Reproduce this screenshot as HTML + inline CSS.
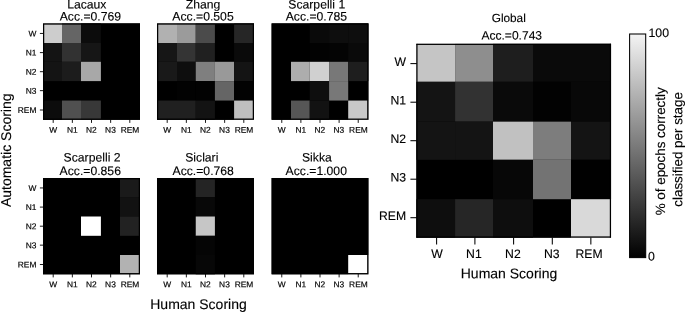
<!DOCTYPE html>
<html lang="en"><head><meta charset="utf-8"><title>Confusion matrices</title>
<style>
html,body{margin:0;padding:0;background:#fff;}
body{width:685px;height:312px;overflow:hidden;}
svg{display:block;will-change:transform;}
svg text{font-family:"Liberation Sans",Arial,Helvetica,sans-serif;fill:#000;text-rendering:geometricPrecision;}
</style></head><body>
<svg width="685" height="312" viewBox="0 0 685 312">
<rect x="0" y="0" width="685" height="312" fill="#fff"/>
<defs><linearGradient id="cb" x1="0" y1="0" x2="0" y2="1"><stop offset="0" stop-color="#f4f4f4"/><stop offset="1" stop-color="#000"/></linearGradient></defs>
<rect x="43.00" y="23.40" width="97.00" height="96.40" fill="#000"/>
<rect x="43.00" y="23.40" width="19.00" height="19.60" fill="#cdcdcd"/>
<rect x="62.00" y="23.40" width="19.00" height="19.60" fill="#656565"/>
<rect x="81.00" y="23.40" width="19.90" height="19.60" fill="#0c0c0c"/>
<rect x="43.00" y="43.00" width="19.00" height="18.80" fill="#141414"/>
<rect x="62.00" y="43.00" width="19.00" height="18.80" fill="#323232"/>
<rect x="81.00" y="43.00" width="19.90" height="18.80" fill="#161616"/>
<rect x="43.00" y="61.80" width="19.00" height="19.30" fill="#141414"/>
<rect x="62.00" y="61.80" width="19.00" height="19.30" fill="#1c1c1c"/>
<rect x="81.00" y="61.80" width="19.90" height="19.30" fill="#a8a8a8"/>
<rect x="43.00" y="100.55" width="19.00" height="19.25" fill="#0c0c0c"/>
<rect x="62.00" y="100.55" width="19.00" height="19.25" fill="#505050"/>
<rect x="81.00" y="100.55" width="19.90" height="19.25" fill="#383838"/>
<rect x="43.62" y="24.02" width="95.75" height="95.15" fill="none" stroke="#000" stroke-width="1.25"/>
<line x1="53.20" y1="119.50" x2="53.20" y2="122.90" stroke="#000" stroke-width="0.9"/>
<line x1="72.35" y1="119.50" x2="72.35" y2="122.90" stroke="#000" stroke-width="0.9"/>
<line x1="91.50" y1="119.50" x2="91.50" y2="122.90" stroke="#000" stroke-width="0.9"/>
<line x1="110.65" y1="119.50" x2="110.65" y2="122.90" stroke="#000" stroke-width="0.9"/>
<line x1="129.80" y1="119.50" x2="129.80" y2="122.90" stroke="#000" stroke-width="0.9"/>
<line x1="39.90" y1="33.45" x2="43.50" y2="33.45" stroke="#000" stroke-width="0.9"/>
<line x1="39.90" y1="52.60" x2="43.50" y2="52.60" stroke="#000" stroke-width="0.9"/>
<line x1="39.90" y1="71.70" x2="43.50" y2="71.70" stroke="#000" stroke-width="0.9"/>
<line x1="39.90" y1="90.65" x2="43.50" y2="90.65" stroke="#000" stroke-width="0.9"/>
<line x1="39.90" y1="110.00" x2="43.50" y2="110.00" stroke="#000" stroke-width="0.9"/>
<text transform="matrix(1,0.0005,0,1,53.10,132.80)" font-size="8.4" text-anchor="middle" stroke="#000" stroke-width="0.18">W</text>
<text transform="matrix(1,0.0005,0,1,72.25,132.80)" font-size="8.4" text-anchor="middle" stroke="#000" stroke-width="0.18">N1</text>
<text transform="matrix(1,0.0005,0,1,91.30,132.80)" font-size="8.4" text-anchor="middle" stroke="#000" stroke-width="0.18">N2</text>
<text transform="matrix(1,0.0005,0,1,110.45,132.80)" font-size="8.4" text-anchor="middle" stroke="#000" stroke-width="0.18">N3</text>
<text transform="matrix(1,0.0005,0,1,130.00,132.80)" font-size="8.4" text-anchor="middle" stroke="#000" stroke-width="0.18">REM</text>
<text transform="matrix(1,0.0005,0,1,36.40,36.45)" font-size="8.4" text-anchor="end" stroke="#000" stroke-width="0.18">W</text>
<text transform="matrix(1,0.0005,0,1,36.40,55.60)" font-size="8.4" text-anchor="end" stroke="#000" stroke-width="0.18">N1</text>
<text transform="matrix(1,0.0005,0,1,36.40,74.70)" font-size="8.4" text-anchor="end" stroke="#000" stroke-width="0.18">N2</text>
<text transform="matrix(1,0.0005,0,1,36.40,93.65)" font-size="8.4" text-anchor="end" stroke="#000" stroke-width="0.18">N3</text>
<text transform="matrix(1,0.0005,0,1,36.40,113.00)" font-size="8.4" text-anchor="end" stroke="#000" stroke-width="0.18">REM</text>
<text transform="matrix(1,0.0005,0,1,86.80,8.45)" font-size="12.2" text-anchor="middle" stroke="#000" stroke-width="0.12">Lacaux</text>
<text transform="matrix(1,0.0005,0,1,90.35,20.45)" font-size="12.2" text-anchor="middle" stroke="#000" stroke-width="0.12">Acc.=0.769</text>
<rect x="157.00" y="23.40" width="97.00" height="96.40" fill="#000"/>
<rect x="157.00" y="23.40" width="20.00" height="19.60" fill="#b1b1b1"/>
<rect x="177.00" y="23.40" width="18.75" height="19.60" fill="#9b9b9b"/>
<rect x="195.75" y="23.40" width="19.15" height="19.60" fill="#4b4b4b"/>
<rect x="234.10" y="23.40" width="19.90" height="19.60" fill="#262626"/>
<rect x="157.00" y="43.00" width="20.00" height="18.80" fill="#161616"/>
<rect x="177.00" y="43.00" width="18.75" height="18.80" fill="#343434"/>
<rect x="195.75" y="43.00" width="19.15" height="18.80" fill="#202020"/>
<rect x="234.10" y="43.00" width="19.90" height="18.80" fill="#0a0a0a"/>
<rect x="157.00" y="61.80" width="20.00" height="19.30" fill="#191919"/>
<rect x="177.00" y="61.80" width="18.75" height="19.30" fill="#0e0e0e"/>
<rect x="195.75" y="61.80" width="19.15" height="19.30" fill="#7f7f7f"/>
<rect x="214.90" y="61.80" width="19.20" height="19.30" fill="#999999"/>
<rect x="234.10" y="61.80" width="19.90" height="19.30" fill="#141414"/>
<rect x="177.00" y="81.10" width="18.75" height="19.45" fill="#020202"/>
<rect x="195.75" y="81.10" width="19.15" height="19.45" fill="#020202"/>
<rect x="214.90" y="81.10" width="19.20" height="19.45" fill="#656565"/>
<rect x="234.10" y="81.10" width="19.90" height="19.45" fill="#020202"/>
<rect x="157.00" y="100.55" width="20.00" height="19.25" fill="#202020"/>
<rect x="177.00" y="100.55" width="18.75" height="19.25" fill="#202020"/>
<rect x="195.75" y="100.55" width="19.15" height="19.25" fill="#131313"/>
<rect x="234.10" y="100.55" width="19.90" height="19.25" fill="#bfbfbf"/>
<rect x="157.62" y="24.02" width="95.75" height="95.15" fill="none" stroke="#000" stroke-width="1.25"/>
<line x1="167.20" y1="119.50" x2="167.20" y2="122.90" stroke="#000" stroke-width="0.9"/>
<line x1="186.35" y1="119.50" x2="186.35" y2="122.90" stroke="#000" stroke-width="0.9"/>
<line x1="205.50" y1="119.50" x2="205.50" y2="122.90" stroke="#000" stroke-width="0.9"/>
<line x1="224.65" y1="119.50" x2="224.65" y2="122.90" stroke="#000" stroke-width="0.9"/>
<line x1="243.80" y1="119.50" x2="243.80" y2="122.90" stroke="#000" stroke-width="0.9"/>
<text transform="matrix(1,0.0005,0,1,167.10,132.80)" font-size="8.4" text-anchor="middle" stroke="#000" stroke-width="0.18">W</text>
<text transform="matrix(1,0.0005,0,1,186.25,132.80)" font-size="8.4" text-anchor="middle" stroke="#000" stroke-width="0.18">N1</text>
<text transform="matrix(1,0.0005,0,1,205.30,132.80)" font-size="8.4" text-anchor="middle" stroke="#000" stroke-width="0.18">N2</text>
<text transform="matrix(1,0.0005,0,1,224.45,132.80)" font-size="8.4" text-anchor="middle" stroke="#000" stroke-width="0.18">N3</text>
<text transform="matrix(1,0.0005,0,1,244.00,132.80)" font-size="8.4" text-anchor="middle" stroke="#000" stroke-width="0.18">REM</text>
<text transform="matrix(1,0.0005,0,1,203.00,8.45)" font-size="12.2" text-anchor="middle" stroke="#000" stroke-width="0.12">Zhang</text>
<text transform="matrix(1,0.0005,0,1,203.00,20.45)" font-size="12.2" text-anchor="middle" stroke="#000" stroke-width="0.12">Acc.=0.505</text>
<rect x="271.60" y="23.40" width="96.80" height="96.40" fill="#000"/>
<rect x="309.75" y="23.40" width="19.35" height="19.60" fill="#0a0a0a"/>
<rect x="329.10" y="23.40" width="19.10" height="19.60" fill="#0e0e0e"/>
<rect x="348.20" y="23.40" width="20.20" height="19.60" fill="#0e0e0e"/>
<rect x="309.75" y="43.00" width="19.35" height="18.80" fill="#020202"/>
<rect x="329.10" y="43.00" width="19.10" height="18.80" fill="#040404"/>
<rect x="348.20" y="43.00" width="20.20" height="18.80" fill="#0a0a0a"/>
<rect x="291.00" y="61.80" width="18.75" height="19.30" fill="#adadad"/>
<rect x="309.75" y="61.80" width="19.35" height="19.30" fill="#d0d0d0"/>
<rect x="329.10" y="61.80" width="19.10" height="19.30" fill="#787878"/>
<rect x="348.20" y="61.80" width="20.20" height="19.30" fill="#1e1e1e"/>
<rect x="309.75" y="81.10" width="19.35" height="19.45" fill="#0e0e0e"/>
<rect x="329.10" y="81.10" width="19.10" height="19.45" fill="#787878"/>
<rect x="291.00" y="100.55" width="18.75" height="19.25" fill="#565656"/>
<rect x="309.75" y="100.55" width="19.35" height="19.25" fill="#121212"/>
<rect x="348.20" y="100.55" width="20.20" height="19.25" fill="#c8c8c8"/>
<rect x="272.23" y="24.02" width="95.55" height="95.15" fill="none" stroke="#000" stroke-width="1.25"/>
<line x1="281.78" y1="119.50" x2="281.78" y2="122.90" stroke="#000" stroke-width="0.9"/>
<line x1="300.89" y1="119.50" x2="300.89" y2="122.90" stroke="#000" stroke-width="0.9"/>
<line x1="320.00" y1="119.50" x2="320.00" y2="122.90" stroke="#000" stroke-width="0.9"/>
<line x1="339.11" y1="119.50" x2="339.11" y2="122.90" stroke="#000" stroke-width="0.9"/>
<line x1="358.22" y1="119.50" x2="358.22" y2="122.90" stroke="#000" stroke-width="0.9"/>
<text transform="matrix(1,0.0005,0,1,281.68,132.80)" font-size="8.4" text-anchor="middle" stroke="#000" stroke-width="0.18">W</text>
<text transform="matrix(1,0.0005,0,1,300.79,132.80)" font-size="8.4" text-anchor="middle" stroke="#000" stroke-width="0.18">N1</text>
<text transform="matrix(1,0.0005,0,1,319.80,132.80)" font-size="8.4" text-anchor="middle" stroke="#000" stroke-width="0.18">N2</text>
<text transform="matrix(1,0.0005,0,1,338.91,132.80)" font-size="8.4" text-anchor="middle" stroke="#000" stroke-width="0.18">N3</text>
<text transform="matrix(1,0.0005,0,1,358.42,132.80)" font-size="8.4" text-anchor="middle" stroke="#000" stroke-width="0.18">REM</text>
<text transform="matrix(1,0.0005,0,1,316.75,8.45)" font-size="12.2" text-anchor="middle" stroke="#000" stroke-width="0.12">Scarpelli 1</text>
<text transform="matrix(1,0.0005,0,1,316.40,20.45)" font-size="12.2" text-anchor="middle" stroke="#000" stroke-width="0.12">Acc.=0.785</text>
<rect x="43.00" y="178.00" width="97.00" height="96.30" fill="#000"/>
<rect x="120.00" y="178.00" width="20.00" height="19.10" fill="#1a1a1a"/>
<rect x="120.00" y="197.10" width="20.00" height="19.40" fill="#121212"/>
<rect x="81.00" y="216.50" width="19.90" height="19.30" fill="#ffffff"/>
<rect x="120.00" y="216.50" width="20.00" height="19.30" fill="#222222"/>
<rect x="120.00" y="255.00" width="20.00" height="19.30" fill="#b2b2b2"/>
<rect x="43.62" y="178.62" width="95.75" height="95.05" fill="none" stroke="#000" stroke-width="1.25"/>
<line x1="53.20" y1="274.00" x2="53.20" y2="277.40" stroke="#000" stroke-width="0.9"/>
<line x1="72.35" y1="274.00" x2="72.35" y2="277.40" stroke="#000" stroke-width="0.9"/>
<line x1="91.50" y1="274.00" x2="91.50" y2="277.40" stroke="#000" stroke-width="0.9"/>
<line x1="110.65" y1="274.00" x2="110.65" y2="277.40" stroke="#000" stroke-width="0.9"/>
<line x1="129.80" y1="274.00" x2="129.80" y2="277.40" stroke="#000" stroke-width="0.9"/>
<line x1="39.90" y1="187.95" x2="43.50" y2="187.95" stroke="#000" stroke-width="0.9"/>
<line x1="39.90" y1="207.10" x2="43.50" y2="207.10" stroke="#000" stroke-width="0.9"/>
<line x1="39.90" y1="226.20" x2="43.50" y2="226.20" stroke="#000" stroke-width="0.9"/>
<line x1="39.90" y1="245.15" x2="43.50" y2="245.15" stroke="#000" stroke-width="0.9"/>
<line x1="39.90" y1="264.50" x2="43.50" y2="264.50" stroke="#000" stroke-width="0.9"/>
<text transform="matrix(1,0.0005,0,1,53.10,287.30)" font-size="8.4" text-anchor="middle" stroke="#000" stroke-width="0.18">W</text>
<text transform="matrix(1,0.0005,0,1,72.25,287.30)" font-size="8.4" text-anchor="middle" stroke="#000" stroke-width="0.18">N1</text>
<text transform="matrix(1,0.0005,0,1,91.30,287.30)" font-size="8.4" text-anchor="middle" stroke="#000" stroke-width="0.18">N2</text>
<text transform="matrix(1,0.0005,0,1,110.45,287.30)" font-size="8.4" text-anchor="middle" stroke="#000" stroke-width="0.18">N3</text>
<text transform="matrix(1,0.0005,0,1,130.00,287.30)" font-size="8.4" text-anchor="middle" stroke="#000" stroke-width="0.18">REM</text>
<text transform="matrix(1,0.0005,0,1,36.40,190.95)" font-size="8.4" text-anchor="end" stroke="#000" stroke-width="0.18">W</text>
<text transform="matrix(1,0.0005,0,1,36.40,210.10)" font-size="8.4" text-anchor="end" stroke="#000" stroke-width="0.18">N1</text>
<text transform="matrix(1,0.0005,0,1,36.40,229.20)" font-size="8.4" text-anchor="end" stroke="#000" stroke-width="0.18">N2</text>
<text transform="matrix(1,0.0005,0,1,36.40,248.15)" font-size="8.4" text-anchor="end" stroke="#000" stroke-width="0.18">N3</text>
<text transform="matrix(1,0.0005,0,1,36.40,267.50)" font-size="8.4" text-anchor="end" stroke="#000" stroke-width="0.18">REM</text>
<text transform="matrix(1,0.0005,0,1,92.05,161.60)" font-size="12.2" text-anchor="middle" stroke="#000" stroke-width="0.12">Scarpelli 2</text>
<text transform="matrix(1,0.0005,0,1,90.25,175.10)" font-size="12.2" text-anchor="middle" stroke="#000" stroke-width="0.12">Acc.=0.856</text>
<rect x="157.00" y="178.00" width="97.00" height="96.30" fill="#000"/>
<rect x="195.75" y="178.00" width="19.15" height="19.10" fill="#242424"/>
<rect x="195.75" y="197.10" width="19.15" height="19.40" fill="#080808"/>
<rect x="195.75" y="216.50" width="19.15" height="19.30" fill="#c6c6c6"/>
<rect x="195.75" y="235.80" width="19.15" height="19.20" fill="#050505"/>
<rect x="195.75" y="255.00" width="19.15" height="19.30" fill="#070707"/>
<rect x="157.62" y="178.62" width="95.75" height="95.05" fill="none" stroke="#000" stroke-width="1.25"/>
<line x1="167.20" y1="274.00" x2="167.20" y2="277.40" stroke="#000" stroke-width="0.9"/>
<line x1="186.35" y1="274.00" x2="186.35" y2="277.40" stroke="#000" stroke-width="0.9"/>
<line x1="205.50" y1="274.00" x2="205.50" y2="277.40" stroke="#000" stroke-width="0.9"/>
<line x1="224.65" y1="274.00" x2="224.65" y2="277.40" stroke="#000" stroke-width="0.9"/>
<line x1="243.80" y1="274.00" x2="243.80" y2="277.40" stroke="#000" stroke-width="0.9"/>
<text transform="matrix(1,0.0005,0,1,167.10,287.30)" font-size="8.4" text-anchor="middle" stroke="#000" stroke-width="0.18">W</text>
<text transform="matrix(1,0.0005,0,1,186.25,287.30)" font-size="8.4" text-anchor="middle" stroke="#000" stroke-width="0.18">N1</text>
<text transform="matrix(1,0.0005,0,1,205.30,287.30)" font-size="8.4" text-anchor="middle" stroke="#000" stroke-width="0.18">N2</text>
<text transform="matrix(1,0.0005,0,1,224.45,287.30)" font-size="8.4" text-anchor="middle" stroke="#000" stroke-width="0.18">N3</text>
<text transform="matrix(1,0.0005,0,1,244.00,287.30)" font-size="8.4" text-anchor="middle" stroke="#000" stroke-width="0.18">REM</text>
<text transform="matrix(1,0.0005,0,1,201.80,161.60)" font-size="12.2" text-anchor="middle" stroke="#000" stroke-width="0.12">Siclari</text>
<text transform="matrix(1,0.0005,0,1,203.20,175.10)" font-size="12.2" text-anchor="middle" stroke="#000" stroke-width="0.12">Acc.=0.768</text>
<rect x="271.60" y="178.00" width="96.80" height="96.30" fill="#000"/>
<rect x="348.20" y="255.00" width="20.20" height="19.30" fill="#ffffff"/>
<rect x="272.23" y="178.62" width="95.55" height="95.05" fill="none" stroke="#000" stroke-width="1.25"/>
<line x1="281.78" y1="274.00" x2="281.78" y2="277.40" stroke="#000" stroke-width="0.9"/>
<line x1="300.89" y1="274.00" x2="300.89" y2="277.40" stroke="#000" stroke-width="0.9"/>
<line x1="320.00" y1="274.00" x2="320.00" y2="277.40" stroke="#000" stroke-width="0.9"/>
<line x1="339.11" y1="274.00" x2="339.11" y2="277.40" stroke="#000" stroke-width="0.9"/>
<line x1="358.22" y1="274.00" x2="358.22" y2="277.40" stroke="#000" stroke-width="0.9"/>
<text transform="matrix(1,0.0005,0,1,281.68,287.30)" font-size="8.4" text-anchor="middle" stroke="#000" stroke-width="0.18">W</text>
<text transform="matrix(1,0.0005,0,1,300.79,287.30)" font-size="8.4" text-anchor="middle" stroke="#000" stroke-width="0.18">N1</text>
<text transform="matrix(1,0.0005,0,1,319.80,287.30)" font-size="8.4" text-anchor="middle" stroke="#000" stroke-width="0.18">N2</text>
<text transform="matrix(1,0.0005,0,1,338.91,287.30)" font-size="8.4" text-anchor="middle" stroke="#000" stroke-width="0.18">N3</text>
<text transform="matrix(1,0.0005,0,1,358.42,287.30)" font-size="8.4" text-anchor="middle" stroke="#000" stroke-width="0.18">REM</text>
<text transform="matrix(1,0.0005,0,1,316.90,161.60)" font-size="12.2" text-anchor="middle" stroke="#000" stroke-width="0.12">Sikka</text>
<text transform="matrix(1,0.0005,0,1,316.25,175.10)" font-size="12.2" text-anchor="middle" stroke="#000" stroke-width="0.12">Acc.=1.000</text>
<rect x="416.40" y="43.80" width="194.65" height="193.90" fill="#000"/>
<rect x="416.40" y="43.80" width="38.70" height="38.00" fill="#c5c5c5"/>
<rect x="455.10" y="43.80" width="37.90" height="38.00" fill="#8e8e8e"/>
<rect x="493.00" y="43.80" width="40.00" height="38.00" fill="#1e1e1e"/>
<rect x="533.00" y="43.80" width="38.00" height="38.00" fill="#0a0a0a"/>
<rect x="571.00" y="43.80" width="40.05" height="38.00" fill="#0a0a0a"/>
<rect x="416.40" y="81.80" width="38.70" height="39.85" fill="#141414"/>
<rect x="455.10" y="81.80" width="37.90" height="39.85" fill="#323232"/>
<rect x="493.00" y="81.80" width="40.00" height="39.85" fill="#0a0a0a"/>
<rect x="533.00" y="81.80" width="38.00" height="39.85" fill="#020202"/>
<rect x="571.00" y="81.80" width="40.05" height="39.85" fill="#080808"/>
<rect x="416.40" y="121.65" width="38.70" height="38.15" fill="#141414"/>
<rect x="455.10" y="121.65" width="37.90" height="38.15" fill="#141414"/>
<rect x="493.00" y="121.65" width="40.00" height="38.15" fill="#c1c1c1"/>
<rect x="533.00" y="121.65" width="38.00" height="38.15" fill="#7d7d7d"/>
<rect x="571.00" y="121.65" width="40.05" height="38.15" fill="#141414"/>
<rect x="493.00" y="159.80" width="40.00" height="39.40" fill="#070707"/>
<rect x="533.00" y="159.80" width="38.00" height="39.40" fill="#737373"/>
<rect x="571.00" y="159.80" width="40.05" height="39.40" fill="#010101"/>
<rect x="416.40" y="199.20" width="38.70" height="38.50" fill="#0e0e0e"/>
<rect x="455.10" y="199.20" width="37.90" height="38.50" fill="#262626"/>
<rect x="493.00" y="199.20" width="40.00" height="38.50" fill="#0e0e0e"/>
<rect x="571.00" y="199.20" width="40.05" height="38.50" fill="#d9d9d9"/>
<rect x="416.40" y="43.85" width="1.15" height="193.75" fill="#000"/>
<rect x="609.80" y="43.85" width="1.20" height="193.75" fill="#000"/>
<rect x="416.40" y="43.85" width="194.60" height="1.10" fill="#000"/>
<rect x="416.40" y="236.40" width="194.60" height="1.20" fill="#000"/>
<line x1="436.60" y1="237.40" x2="436.60" y2="244.50" stroke="#000" stroke-width="1.05"/>
<line x1="474.90" y1="237.40" x2="474.90" y2="244.50" stroke="#000" stroke-width="1.05"/>
<line x1="513.60" y1="237.40" x2="513.60" y2="244.50" stroke="#000" stroke-width="1.05"/>
<line x1="552.30" y1="237.40" x2="552.30" y2="244.50" stroke="#000" stroke-width="1.05"/>
<line x1="590.85" y1="237.40" x2="590.85" y2="244.50" stroke="#000" stroke-width="1.05"/>
<line x1="410.40" y1="63.60" x2="416.90" y2="63.60" stroke="#000" stroke-width="1.05"/>
<line x1="410.40" y1="102.20" x2="416.90" y2="102.20" stroke="#000" stroke-width="1.05"/>
<line x1="410.40" y1="140.70" x2="416.90" y2="140.70" stroke="#000" stroke-width="1.05"/>
<line x1="410.40" y1="179.20" x2="416.90" y2="179.20" stroke="#000" stroke-width="1.05"/>
<line x1="410.40" y1="217.70" x2="416.90" y2="217.70" stroke="#000" stroke-width="1.05"/>
<text transform="matrix(1,0.0005,0,1,437.05,257.90)" font-size="12.2" text-anchor="middle" stroke="#000" stroke-width="0.12">W</text>
<text transform="matrix(1,0.0005,0,1,473.90,257.90)" font-size="12.2" text-anchor="middle" stroke="#000" stroke-width="0.12">N1</text>
<text transform="matrix(1,0.0005,0,1,512.90,257.90)" font-size="12.2" text-anchor="middle" stroke="#000" stroke-width="0.12">N2</text>
<text transform="matrix(1,0.0005,0,1,551.80,257.90)" font-size="12.2" text-anchor="middle" stroke="#000" stroke-width="0.12">N3</text>
<text transform="matrix(1,0.0005,0,1,589.10,257.90)" font-size="12.2" text-anchor="middle" stroke="#000" stroke-width="0.12">REM</text>
<text transform="matrix(1,0.0005,0,1,406.10,65.90)" font-size="12.2" text-anchor="end" stroke="#000" stroke-width="0.12">W</text>
<text transform="matrix(1,0.0005,0,1,406.10,104.50)" font-size="12.2" text-anchor="end" stroke="#000" stroke-width="0.12">N1</text>
<text transform="matrix(1,0.0005,0,1,406.10,143.00)" font-size="12.2" text-anchor="end" stroke="#000" stroke-width="0.12">N2</text>
<text transform="matrix(1,0.0005,0,1,406.10,181.50)" font-size="12.2" text-anchor="end" stroke="#000" stroke-width="0.12">N3</text>
<text transform="matrix(1,0.0005,0,1,406.10,220.00)" font-size="12.2" text-anchor="end" stroke="#000" stroke-width="0.12">REM</text>
<text transform="matrix(1,0.0005,0,1,508.75,22.00)" font-size="11.8" text-anchor="middle" stroke="#000" stroke-width="0.12">Global</text>
<text transform="matrix(1,0.0005,0,1,511.75,39.60)" font-size="12.05" text-anchor="middle" stroke="#000" stroke-width="0.12">Acc.=0.743</text>
<text transform="matrix(1,0.0005,0,1,509.00,278.20)" font-size="14.0" text-anchor="middle" stroke="#000" stroke-width="0.12">Human Scoring</text>
<text transform="matrix(1,0.0005,0,1,198.50,308.90)" font-size="14.0" text-anchor="middle" stroke="#000" stroke-width="0.12">Human Scoring</text>
<text transform="translate(10.90,150.30) rotate(-89.97)" font-size="14.0" text-anchor="middle" stroke="#000" stroke-width="0.12">Automatic Scoring</text>
<rect x="629.6" y="34.0" width="16.1" height="223.6" fill="url(#cb)" stroke="#000" stroke-width="1.05"/>
<text transform="matrix(1,0.0005,0,1,648.50,37.00)" font-size="12.3" stroke="#000" stroke-width="0.12">100</text>
<text transform="matrix(1,0.0005,0,1,648.00,260.60)" font-size="12.3" stroke="#000" stroke-width="0.12">0</text>
<text transform="translate(665.00,151.30) rotate(-89.97)" font-size="13.4" text-anchor="middle" stroke="#000" stroke-width="0.12">% of epochs correctly</text>
<text transform="translate(682.20,149.40) rotate(-89.97)" font-size="13.4" text-anchor="middle" stroke="#000" stroke-width="0.12">classified per stage</text>
</svg>
</body></html>
